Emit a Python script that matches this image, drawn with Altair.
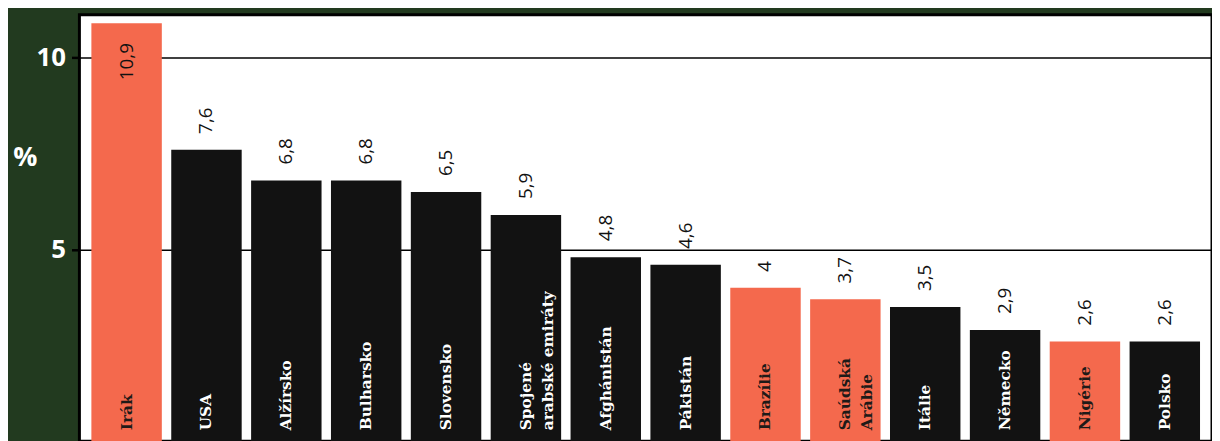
import altair as alt
import pandas as pd

countries = ["Irák", "USA", "Alžírsko", "Bulharsko", "Slovensko",
             "Spojené\narabské emiráty", "Afghánistán", "Pákistán", "Brazílie",
             "Saúdská\nArábie", "Itálie", "Německo", "Nigérie", "Polsko"]
values = [10.9, 7.6, 6.8, 6.8, 6.5, 5.9, 4.8, 4.6, 4.0, 3.7, 3.5, 2.9, 2.6, 2.6]
value_labels = ["10,9", "7,6", "6,8", "6,8", "6,5", "5,9", "4,8", "4,6", "4",
                "3,7", "3,5", "2,9", "2,6", "2,6"]
highlight = [True, False, False, False, False, False, False, False, True,
             True, False, False, True, False]
y_ticks = [5, 10]

ORANGE = "#F4694D"
BLACK = "#121212"
GREEN = "#223A1F"

df = pd.DataFrame({
    "idx": list(range(len(countries))),
    "country": countries,
    "value": values,
    "vlabel": value_labels,
    "hl": ["a" if h else "b" for h in highlight],
})

x = alt.X("idx:O", axis=None,
          scale=alt.Scale(paddingInner=0.118, paddingOuter=0.15))
yscale = alt.Scale(domain=[0, 11.12], nice=False, zero=True)

bars = alt.Chart(df).mark_bar().encode(
    x=x,
    y=alt.Y("value:Q", scale=yscale,
            axis=alt.Axis(values=y_ticks, title="%", titleAngle=0,
                          titleX=-55, titleY=144, titleAlign="center",
                          titleBaseline="middle", titleColor="white",
                          titleFont="Open Sans", titleFontSize=27,
                          titleFontWeight="bold",
                          labelColor="white", labelFont="Open Sans",
                          labelFontSize=26, labelFontWeight="bold",
                          labelPadding=6, tickColor="black", tickWidth=2.5,
                          tickSize=8, domain=False, grid=True,
                          gridColor="black", gridWidth=1.5, gridOpacity=1)),
    color=alt.Color("hl:N", scale=alt.Scale(domain=["a", "b"], range=[ORANGE, BLACK]),
                    legend=None),
)

above = alt.Chart(df).transform_filter("datum.value < 10").mark_text(
    angle=270, align="left", baseline="middle", dx=16,
    font="Open Sans", fontSize=19, fontWeight=500, color="#111111"
).encode(x=x, y=alt.Y("value:Q", scale=yscale), text="vlabel:N")

inside = alt.Chart(df).transform_filter("datum.value >= 10").mark_text(
    angle=270, align="right", baseline="middle", dx=-20,
    font="Open Sans", fontSize=19, fontWeight=500, color="#111111"
).encode(x=x, y=alt.Y("value:Q", scale=yscale), text="vlabel:N")

names = alt.Chart(df).mark_text(
    angle=270, align="left", baseline="middle", dx=11, lineBreak="\n",
    lineHeight=22, font="DejaVu Serif", fontSize=15.5, fontWeight="bold"
).encode(
    x=x,
    y=alt.Y("zero:Q", scale=yscale),
    text="country:N",
    color=alt.Color("hl:N", scale=alt.Scale(domain=["a", "b"], range=["#1e1a18", "#ffffff"]),
                    legend=None),
).transform_calculate(zero="0")

chart = alt.layer(bars, above, inside, names).resolve_scale(color="independent").properties(
    width=1142, height=430, background=GREEN,
    autosize=alt.AutoSizeParams(type="none"),
    padding={"left": 72, "top": 5, "right": 0, "bottom": 0},
).configure_view(fill="white", stroke="black", strokeWidth=3)

chart.save("out.html", embed_options={"renderer": "svg", "actions": False})
